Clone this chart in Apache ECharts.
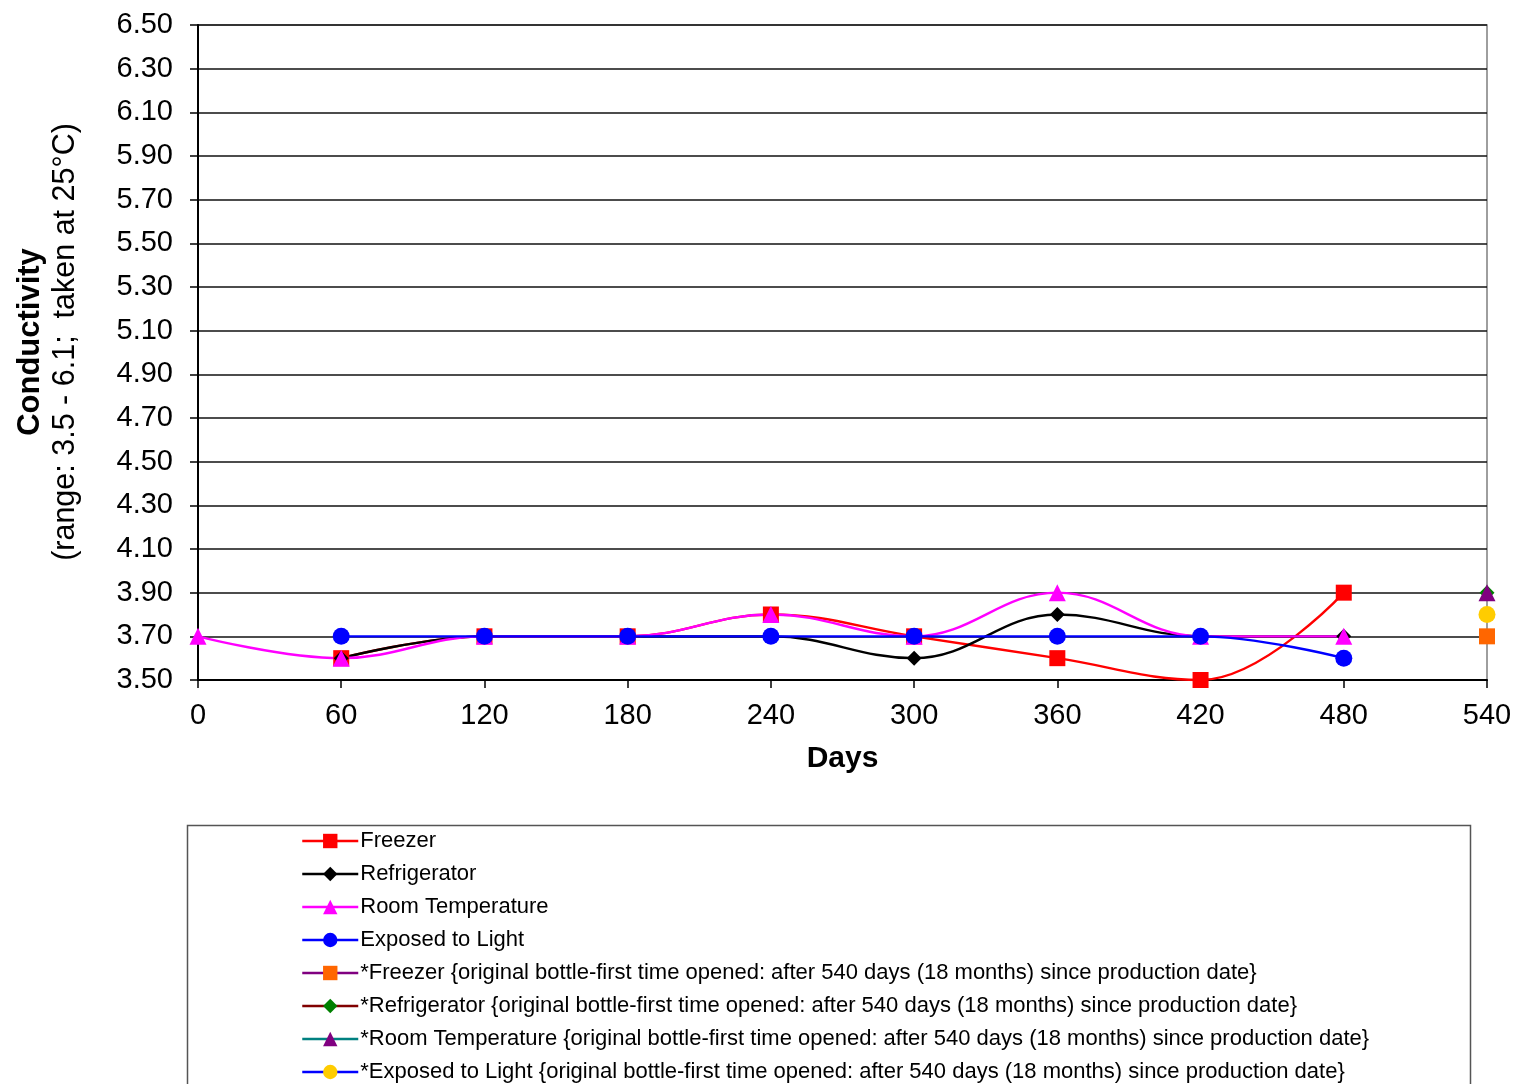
<!DOCTYPE html>
<html>
<head>
<meta charset="utf-8">
<script src="https://cdn.jsdelivr.net/npm/echarts@6/dist/echarts.min.js"></script>
<style>
  html, body { margin: 0; padding: 0; background: #fff; }
  #chart { width: 1517px; height: 1084px; }
</style>
</head>
<body>
<div id="chart"></div>
<script>
// Sampling days (x values)
const days = [0, 60, 120, 180, 240, 300, 360, 420, 480, 540];

// Conductivity readings per storage condition (null = not measured)
const freezer       = [null, 3.6, 3.7, 3.7, 3.8, 3.7, 3.6, 3.5, 3.9, null];
const refrigerator  = [null, 3.6, 3.7, 3.7, 3.7, 3.6, 3.8, 3.7, 3.7, null];
const roomTemp      = [3.7, 3.6, 3.7, 3.7, 3.8, 3.7, 3.9, 3.7, 3.7, null];
const exposedLight  = [null, 3.7, 3.7, 3.7, 3.7, 3.7, 3.7, 3.7, 3.6, null];

// Original bottles first opened after 540 days
const freezerOrig      = [null, null, null, null, null, null, null, null, null, 3.7];
const refrigeratorOrig = [null, null, null, null, null, null, null, null, null, 3.9];
const roomTempOrig     = [null, null, null, null, null, null, null, null, null, 3.9];
const exposedOrig      = [null, null, null, null, null, null, null, null, null, 3.8];

// Axis tick values
const yTicks = { min: 3.5, max: 6.5, step: 0.2 };
const xTicks = { min: 0, max: 540, step: 60 };

const seriesNames = [
  'Freezer',
  'Refrigerator',
  'Room Temperature',
  'Exposed to Light',
  '*Freezer {original bottle-first time opened: after 540 days (18 months) since production date}',
  '*Refrigerator {original bottle-first time opened: after 540 days (18 months) since production date}',
  '*Room Temperature {original bottle-first time opened: after 540 days (18 months) since production date}',
  '*Exposed to Light {original bottle-first time opened: after 540 days (18 months) since production date}'
];

function pairs(values) {
  const out = [];
  values.forEach((v, i) => { if (v !== null) out.push([days[i], v]); });
  return out;
}

function lineSeries(name, values, lineColor, markColor, symbol, size) {
  return {
    name: name,
    type: 'line',
    data: pairs(values),
    smooth: 0.4,
    clip: false,
    symbol: symbol,
    symbolSize: size,
    lineStyle: { color: lineColor, width: 2.4 },
    itemStyle: { color: markColor },
    emphasis: { disabled: true }
  };
}

const chart = echarts.init(document.getElementById('chart'), null, { renderer: 'canvas' });

const FONT = '"Liberation Sans", Arial, sans-serif';

chart.setOption({
  animation: false,
  backgroundColor: '#ffffff',
  grid: {
    left: 198, right: 30, top: 25, bottom: 404,
    show: true, borderColor: '#7f7f7f', borderWidth: 1.5
  },
  xAxis: {
    type: 'value',
    min: xTicks.min, max: xTicks.max, interval: xTicks.step,
    name: 'Days',
    nameLocation: 'middle',
    nameGap: 64,
    nameTextStyle: { fontFamily: FONT, fontSize: 30, fontWeight: 'bold', color: '#000' },
    axisLine: { show: true, lineStyle: { color: '#000', width: 2 } },
    axisTick: { show: true, length: 8, lineStyle: { color: '#000', width: 1.5 } },
    axisLabel: { fontFamily: FONT, fontSize: 29, color: '#000', margin: 21 },
    splitLine: { show: false }
  },
  yAxis: {
    type: 'value',
    min: yTicks.min, max: yTicks.max, interval: yTicks.step,
    axisLine: { show: true, lineStyle: { color: '#000', width: 2 } },
    axisTick: { show: true, length: 8, lineStyle: { color: '#000', width: 1.5 } },
    axisLabel: {
      fontFamily: FONT, fontSize: 29, color: '#000', margin: 25,
      formatter: v => v.toFixed(2)
    },
    splitLine: { show: true, lineStyle: { color: '#111', width: 1.5 } }
  },
  legend: {
    orient: 'vertical',
    left: 296,
    top: 825,
    height: 320,
    itemWidth: 56,
    itemHeight: 18,
    itemGap: 11,
    data: seriesNames,
    selectedMode: false,
    lineStyle: { width: 2.5 },
    textStyle: { fontFamily: FONT, fontSize: 22, color: '#000', padding: [0, 0, 0, -3] }
  },
  graphic: [
    {
      type: 'rect',
      left: 185, top: 823,
      shape: { width: 1283, height: 300 },
      style: { fill: 'none', stroke: '#555', lineWidth: 1.5 },
      silent: true
    },
    {
      type: 'text',
      x: 30, y: 342,
      rotation: Math.PI / 2,
      style: {
        text: 'Conductivity',
        font: 'bold 31px ' + FONT,
        fill: '#000',
        align: 'center',
        verticalAlign: 'middle'
      },
      silent: true
    },
    {
      type: 'text',
      x: 66, y: 342,
      rotation: Math.PI / 2,
      style: {
        text: '(range: 3.5 - 6.1;  taken at 25\u00B0C)',
        font: '30.5px ' + FONT,
        fill: '#000',
        align: 'center',
        verticalAlign: 'middle'
      },
      silent: true
    }
  ],
  series: [
    lineSeries(seriesNames[0], freezer, '#ff0000', '#ff0000', 'rect', 16),
    lineSeries(seriesNames[1], refrigerator, '#000000', '#000000', 'diamond', 15),
    lineSeries(seriesNames[2], roomTemp, '#ff00ff', '#ff00ff', 'triangle', 17),
    lineSeries(seriesNames[3], exposedLight, '#0000ff', '#0000ff', 'circle', 17),
    lineSeries(seriesNames[4], freezerOrig, '#800080', '#ff6600', 'rect', 16),
    lineSeries(seriesNames[5], refrigeratorOrig, '#800000', '#008000', 'diamond', 15),
    lineSeries(seriesNames[6], roomTempOrig, '#008080', '#800080', 'triangle', 17),
    lineSeries(seriesNames[7], exposedOrig, '#0000ff', '#ffcc00', 'circle', 17)
  ]
});
</script>
</body>
</html>
